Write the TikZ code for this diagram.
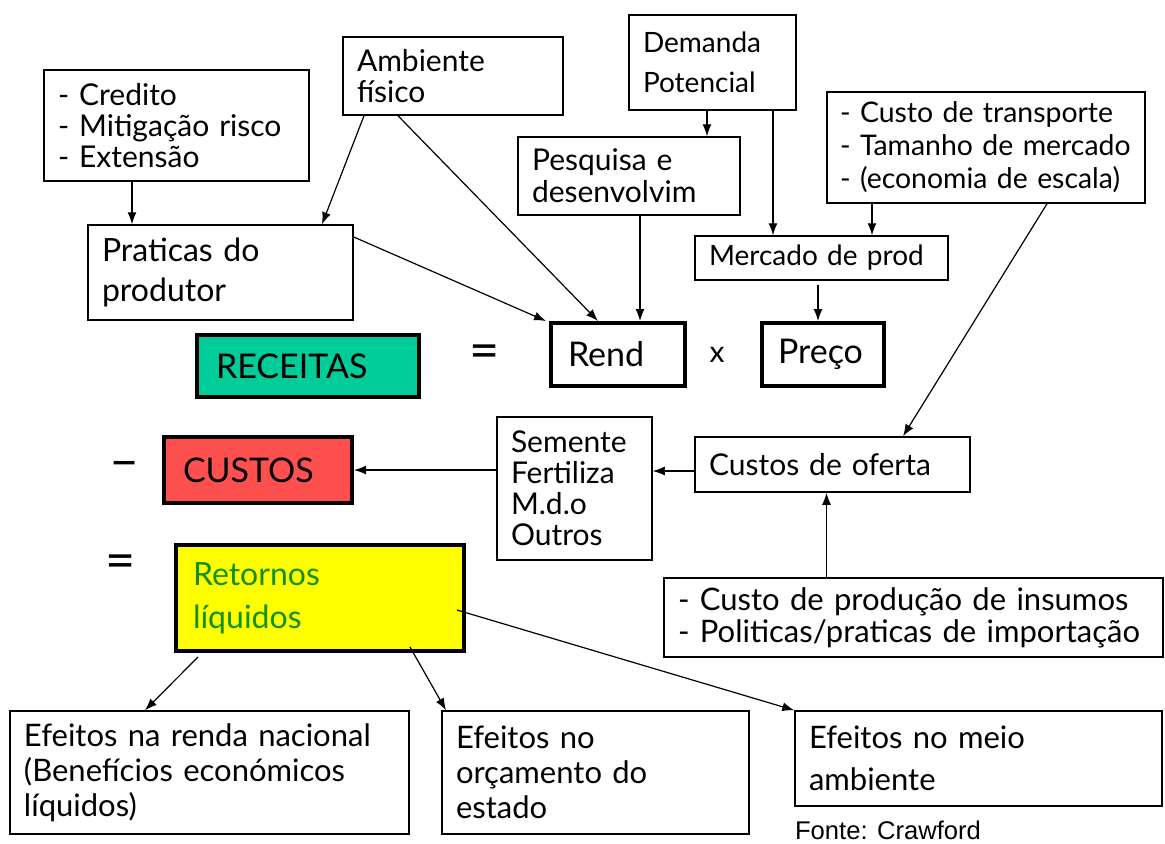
\documentclass[tikz,border=0pt]{standalone}
\usepackage{fontspec}
\setmainfont{Lato}
\newfontfamily\arialfont{Liberation Sans}
\usetikzlibrary{arrows.meta,positioning}
\definecolor{verdeagua}{HTML}{00CC99}
\definecolor{vermelho}{HTML}{FF5050}
\definecolor{amarelo}{HTML}{FFFF00}
\definecolor{verdetxt}{HTML}{109010}
\newcommand{\tam}[2]{\fontsize{#1}{#2}\selectfont}

\begin{document}
\begin{tikzpicture}[x=0.5pt,y=-0.5pt,
    caixa/.style={draw,line width=0.75pt,align=left,inner xsep=7pt,
      inner ysep=0pt,font=\tam{15}{15.5}},
    grossa/.style={caixa,line width=2pt},
    seta/.style={-{Latex[length=6pt,width=4.5pt]},line width=0.6pt}]
  \useasboundingbox (0,0) rectangle (1165,843);
  % caixas de cima
  \node[caixa,text width=118.5pt,minimum height=55.5pt] (cred) at (176.5,125.5)
    {- Credito\\- Mitigação risco\\- Extensão};
  \node[caixa,text width=118.5pt,minimum height=47.5pt,font=\tam{16}{20}] (prat)
    at (220.5,272.5) {Praticas do\\produtor};
  \node[caixa,text width=96pt,minimum height=39pt] (amb) at (453,76)
    {Ambiente\\físico};
  \node[caixa,text width=69.5pt,minimum height=47.5pt,font=\tam{14}{20}] (dem)
    at (712.5,62.5) {Demanda\\Potencial};
  \node[caixa,text width=97pt,minimum height=39pt,font=\tam{15}{16}] (pesq)
    at (629,176) {Pesquisa e\\desenvolvim};
  \node[caixa,text width=112.5pt,minimum height=22pt,font=\tam{14}{16}] (merc)
    at (821.5,258) {Mercado de prod};
  \node[caixa,text width=146pt,inner xsep=6.5pt,minimum height=55.5pt,
    font=\tam{14.2}{16.5}] (transp) at (986,147.5)
    {- Custo de transporte\\- Tamanho de mercado\\- (economia de escala)};
  % equacao
  \node[grossa,fill=verdeagua,text width=92pt,inner xsep=9.5pt,minimum height=31pt,
    font=\tam{17}{18}] (rec) at (308,366) {RECEITAS};
  \node[font=\tam{26}{26}] (igual1) at (485,357) {=};
  \node[grossa,text width=50pt,inner xsep=8.5pt,minimum height=31.5pt,
    font=\tam{17}{18}] (rend) at (618,354.5) {Rend};
  \node[font=\tam{15}{16}] (vezes) at (717,355) {x};
  \node[grossa,text width=45pt,inner xsep=8pt,minimum height=31.5pt,
    font=\tam{17}{18}] (preco) at (823,354.5) {Preço};
  \node[font=\tam{26}{26}] (menos) at (125,470) {--};
  \node[grossa,fill=vermelho,text width=75pt,inner xsep=9.5pt,minimum height=33pt,
    font=\tam{17}{18}] (custos) at (258,470) {CUSTOS};
  \node[caixa,text width=63.5pt,minimum height=71.5pt] (sem) at (574.5,488.5)
    {Semente\\Fertiliza\\M.d.o\\Outros};
  \node[caixa,text width=123.5pt,minimum height=27.5pt] (oferta) at (832.5,464.5)
    {Custos de oferta};
  \node[font=\tam{26}{26}] (igual2) at (121,567) {=};
  \node[grossa,fill=amarelo,text width=127pt,inner xsep=8.5pt,minimum height=53pt,
    font=\tam{16}{21.5}\color{verdetxt}] (ret) at (320,598) {Retornos\\líquidos};
  \node[caixa,text width=235.5pt,minimum height=39.5pt,font=\tam{15.5}{16}] (ins)
    at (913.5,617.5) {- Custo de produção de insumos\\- Politicas/praticas de importação};
  % efeitos
  \node[caixa,text width=185.5pt,minimum height=61.5pt,font=\tam{15.5}{17.5}] (ef1)
    at (209.5,772.5) {Efeitos na renda nacional\\(Benefícios económicos\\líquidos)};
  \node[caixa,text width=139.5pt,minimum height=61.5pt,font=\tam{15.5}{17.5}] (ef2)
    at (595.5,772.5) {Efeitos no\\orçamento do\\estado};
  \node[caixa,text width=169.5pt,minimum height=47.5pt,font=\tam{15.5}{21}] (ef3)
    at (978.5,758.5) {Efeitos no meio\\ambiente};
  \node[font=\arialfont\tam{12.8}{14},inner sep=0pt] (fonte) at (888,830) {Fonte: Crawford};
  % setas
  \draw[seta] ([xshift=-22.25pt]cred.south) -- ([xshift=-22.25pt]cred.south |- prat.north);
  \draw[seta] ([xshift=-44.5pt]amb.south) -- ([xshift=50.75pt]prat.north);
  \draw[seta] ([xshift=-27.5pt]amb.south) -- ([xshift=-10pt]rend.north);
  \draw[seta] ([yshift=17.75pt]prat.east) -- ([xshift=-1.5pt]rend.north west);
  \draw[seta] ([xshift=5.5pt]pesq.south) -- ([xshift=5.5pt]pesq.south |- rend.north);
  \draw[seta] ([xshift=-2.75pt]dem.south) -- ([xshift=-2.75pt]dem.south |- pesq.north);
  \draw[seta] ([xshift=30.25pt]dem.south) -- ([xshift=30.25pt]dem.south |- merc.north);
  \draw[seta] ([xshift=-57pt]transp.south) -- ([xshift=-57pt]transp.south |- merc.north);
  \draw[seta] ([xshift=-1.75pt,yshift=-2pt]merc.south) -- ([xshift=-1.75pt]merc.south |- preco.north);
  \draw[seta] ([xshift=30.5pt]transp.south) -- ([xshift=35.25pt]oferta.north);
  \draw[seta] ([xshift=-43.5pt]ins.north) -- ([xshift=-43.5pt]ins.north |- oferta.south);
  \draw[seta] ([yshift=-3.25pt]oferta.west) -- ([yshift=-3.25pt]oferta.west -| sem.east);
  \draw[seta] (sem.west |- custos.east) -- (custos.east);
  \draw[seta] ([xshift=-61pt,yshift=-2pt]ret.south) -- ([xshift=-32.25pt]ef1.north);
  \draw[seta] ([xshift=45pt,yshift=3pt]ret.south) -- ([xshift=-74.75pt]ef2.north);
  \draw[seta] ([xshift=-4.5pt,yshift=-6pt]ret.east) -- (ef3.north west);
\end{tikzpicture}
\end{document}
